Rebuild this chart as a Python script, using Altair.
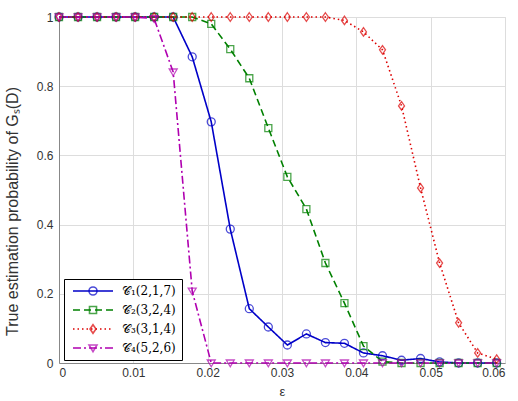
import altair as alt
import pandas as pd

eps = [0.0, 0.00256, 0.00512, 0.00768, 0.01024, 0.0128, 0.01536, 0.01792,
       0.02048, 0.02304, 0.0256, 0.02816, 0.03072, 0.03328, 0.03584, 0.0384,
       0.04096, 0.04352, 0.04608, 0.04864, 0.0512, 0.05376, 0.05632, 0.05888]
c1 = [1, 1, 1, 1, 1, 1, 1, 0.885, 0.697, 0.387, 0.157, 0.104, 0.052, 0.084,
      0.059, 0.057, 0.029, 0.021, 0.008, 0.013, 0.003, 0, 0, 0]
c2 = [1, 1, 1, 1, 1, 1, 1, 1, 0.98, 0.907, 0.823, 0.679, 0.538, 0.445,
      0.289, 0.173, 0.049, 0.004, 0, 0, 0, 0, 0, 0]
c3 = [1, 1, 1, 1, 1, 1, 1, 1, 1, 1, 1, 1, 1, 1, 1, 0.99, 0.957, 0.905,
      0.743, 0.506, 0.289, 0.116, 0.029, 0.011]
c4 = [1, 1, 1, 1, 1, 0.995, 0.841, 0.208, 0, 0, 0, 0, 0, 0, 0, 0, 0, 0,
      0, 0, 0, 0, 0, 0]

labels = ["𝒞₁(2,1,7)", "𝒞₂(3,2,4)", "𝒞₃(3,1,4)", "𝒞₄(5,2,6)"]
colors = ["#0000c8", "#008000", "#dd0000", "#b000b0"]
dashes = [[1, 0], [7, 4], [1.5, 3], [8, 3, 2, 3]]
shapes = [
    "M0.8,0A0.8,0.8,0,1,1,-0.8,0A0.8,0.8,0,1,1,0.8,0Z",
    "M-0.7,-0.7H0.7V0.7H-0.7Z",
    "M0,-0.85L0.6,0L0,0.85L-0.6,0Z",
    "M-0.8,-0.6L0.8,-0.6L0,0.75Z",
]
x_ticks = [0, 0.01, 0.02, 0.03, 0.04, 0.05, 0.06]
y_ticks = [0, 0.2, 0.4, 0.6, 0.8, 1]

series_domain = [lab + "\u00a0\u00a0\u00a0" for lab in labels]
marker_domain = [lab + "\u00a0\u00a0" for lab in labels]

rows = []
for s_key, m_key, vals in zip(series_domain, marker_domain, [c1, c2, c3, c4]):
    for e, v in zip(eps, vals):
        rows.append({"eps": e, "p": v, "series": s_key, "marker": m_key})
df = pd.DataFrame(rows)

legend_common = dict(title=None, orient="none", legendX=5, legendY=262,
                     symbolSize=100, padding=6,
                     labelFont="DejaVu Serif", labelFontSize=12,
                     labelColor="black", symbolOffset=17, labelOffset=23)

legA = alt.Legend(symbolType="M-4,0L4,0", symbolStrokeWidth=1.6, rowPadding=7,
                  fillColor="white", strokeColor="black", zindex=1, **legend_common)
legB = alt.Legend(symbolStrokeWidth=1.6, rowPadding=4, labelExpr="''", zindex=2,
                  **legend_common)

xaxis = alt.Axis(values=x_ticks, format="~g", title="ε", ticks=False,
                 labelFont="Liberation Sans", labelFontSize=12, labelColor="#333",
                 titleFont="Liberation Sans", titleFontSize=13, titleFontWeight="normal",
                 titleColor="#333", labelPadding=4, titlePadding=7)
yaxis = alt.Axis(values=y_ticks, format="~g", title="True estimation probability of Gₛ(D)",
                 ticks=False, labelFont="Liberation Sans", labelFontSize=12, labelColor="#333",
                 titleFont="Liberation Sans", titleFontSize=16, titleFontWeight="normal",
                 titleColor="#333", labelPadding=6, titlePadding=16, titleY=194)

xs = alt.Scale(domain=[0, 0.06], nice=False)
ys = alt.Scale(domain=[0, 1], nice=False)

line = alt.Chart(df).mark_line(strokeWidth=1.6).encode(
    x=alt.X("eps:Q", scale=xs, axis=xaxis),
    y=alt.Y("p:Q", scale=ys, axis=yaxis),
    color=alt.Color("series:N", scale=alt.Scale(domain=series_domain, range=colors), legend=legA),
    strokeDash=alt.StrokeDash("series:N", scale=alt.Scale(domain=series_domain, range=dashes), legend=legA),
)

pts = alt.Chart(df).mark_point(filled=False, size=100, strokeWidth=1.3).encode(
    x=alt.X("eps:Q", scale=xs),
    y=alt.Y("p:Q", scale=ys),
    stroke=alt.Stroke("marker:N", scale=alt.Scale(domain=marker_domain, range=colors), legend=legB),
    shape=alt.Shape("marker:N", scale=alt.Scale(domain=marker_domain, range=shapes), legend=legB),
)

chart = alt.layer(line, pts).properties(
    width=446, height=346,
    autosize=alt.AutoSizeParams(type="none"),
    padding={"left": 59, "top": 17, "right": 13, "bottom": 38},
).configure_view(stroke="black", strokeWidth=1).configure_axis(
    grid=True, gridDash=[1, 3], gridColor="black", gridOpacity=0.7, domainColor="black"
).configure(background="white")

chart.save("out.html", embed_options={"renderer": "svg", "actions": False})
